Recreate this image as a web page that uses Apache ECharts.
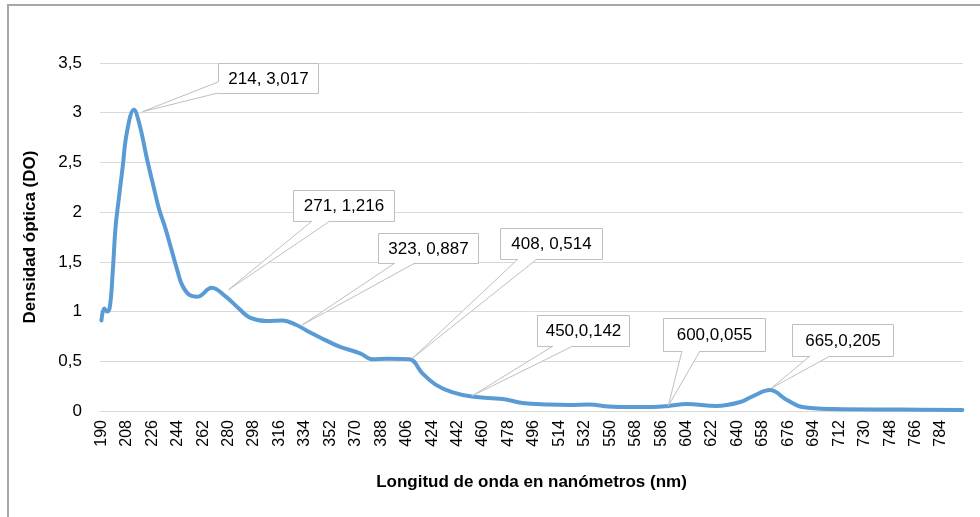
<!DOCTYPE html>
<html>
<head>
<meta charset="utf-8">
<script src="https://cdn.jsdelivr.net/npm/echarts@6/dist/echarts.min.js"></script>
<style>
  html, body { margin: 0; padding: 0; background: #fff; }
  #chart { width: 980px; height: 517px; }
</style>
</head>
<body>
<div id="chart"></div>
<script>
// espectro: longitud de onda (nm) / densidad óptica
const wavelengths = [190, 192, 194, 196, 198, 200, 202, 205, 208, 213, 217, 222, 227, 231, 235, 240, 244, 247, 252, 258,
  268, 278, 288, 295, 307, 318, 328, 335, 344, 358, 373, 382, 392, 408, 417, 427, 438, 452, 474, 488,
  506, 521, 535, 549, 564, 580, 591, 604, 625, 642, 651, 663, 675, 686, 708, 755, 799]
const densities = [0.91, 1.03, 1.0, 1.05, 1.4, 1.85, 2.1, 2.45, 2.8, 3.03, 2.88, 2.55, 2.25, 2.02, 1.85, 1.6, 1.4, 1.27, 1.17, 1.15,
  1.24, 1.15, 1.02, 0.94, 0.905, 0.91, 0.865, 0.81, 0.745, 0.65, 0.58, 0.52, 0.525, 0.52, 0.38, 0.26, 0.19, 0.145, 0.12, 0.08,
  0.065, 0.06, 0.065, 0.045, 0.04, 0.04, 0.05, 0.07, 0.05, 0.09, 0.15, 0.21, 0.11, 0.04, 0.02, 0.015, 0.01]

const xTicks = [190, 208, 226, 244, 262, 280, 298, 316, 334, 352, 370, 388, 406, 424, 442, 460, 478,
  496, 514, 532, 550, 568, 586, 604, 622, 640, 658, 676, 694, 712, 730, 748, 766, 784]

// etiquetas de datos (texto) y punto donde apunta cada una
const calloutTexts = ['214, 3,017', '271, 1,216', '323, 0,887', '408, 0,514', '450,0,142', '600,0,055', '665,0,205']
const calloutNm = [219, 280, 332, 410, 452, 591, 664]
const calloutDo = [3.01, 1.22, 0.865, 0.53, 0.15, 0.05, 0.23]

// layout only: box [x, y, w, h] in px, and wedge base [x1, y1, x2, y2] relative to the box
const calloutBoxes = [
  [218, 63, 100, 30],
  [293, 190, 101, 31],
  [378, 233, 100, 30],
  [500, 228, 102, 31],
  [537, 315, 92, 31],
  [663, 318, 102, 33],
  [792, 324, 101, 32],
]
const wedgeBases = [
  [0, 19, 0, 30],
  [19, 31, 37, 31],
  [17, 30, 37, 30],
  [18, 31, 37, 31],
  [16, 31, 36, 31],
  [19, 33, 37, 33],
  [18, 32, 38, 32],
]

const FONT = '"Liberation Sans", Arial, Helvetica, sans-serif'
const chart = echarts.init(document.getElementById('chart'))

const renderCallout = (params, api) => {
  const i = params.dataIndex
  const tip = api.coord([api.value(0), api.value(1)])
  const [bx, by, bw, bh] = calloutBoxes[i]
  const b = wedgeBases[i]
  const p1 = [bx + b[0], by + b[1]]
  const p2 = [bx + b[2], by + b[3]]
  // push the fill a little inside the box so it hides the border under the wedge
  const inset = b[0] === b[2] ? [1.5, 0] : [0, -1.5]
  return {
    type: 'group',
    children: [
      {
        type: 'rect',
        shape: { x: bx + 0.5, y: by + 0.5, width: bw, height: bh },
        style: { fill: '#fff', stroke: '#bfbfbf', lineWidth: 1 },
      },
      {
        type: 'polygon',
        shape: { points: [[p1[0] + inset[0], p1[1] + inset[1]], [p2[0] + inset[0], p2[1] + inset[1]], p2, tip, p1] },
        style: { fill: '#fff' },
      },
      { type: 'line', shape: { x1: p1[0], y1: p1[1], x2: tip[0], y2: tip[1] }, style: { stroke: '#bfbfbf', lineWidth: 1 } },
      { type: 'line', shape: { x1: p2[0], y1: p2[1], x2: tip[0], y2: tip[1] }, style: { stroke: '#bfbfbf', lineWidth: 1 } },
      {
        type: 'text',
        style: {
          text: calloutTexts[i],
          x: bx + bw / 2 + 0.5,
          y: by + bh / 2 + 1,
          align: 'center',
          verticalAlign: 'middle',
          fontSize: 17,
          fontFamily: FONT,
          fill: '#000',
        },
      },
    ],
  }
}

const option = {
  animation: false,
  backgroundColor: '#fff',
  textStyle: { fontFamily: FONT },
  grid: { left: 100, right: 17, top: 63, bottom: 106, outerBoundsMode: 'none' },
  graphic: [
    {
      type: 'rect',
      shape: { x: 8, y: 5, width: 1200, height: 800 },
      style: { fill: 'none', stroke: '#a6a6a6', lineWidth: 2 },
      silent: true,
    },
  ],
  xAxis: {
    type: 'value',
    min: 189,
    max: 799.5,
    name: 'Longitud de onda en nanómetros (nm)',
    nameLocation: 'middle',
    nameGap: 63,
    nameTextStyle: { fontSize: 17, fontWeight: 'bold', color: '#000', fontFamily: FONT },
    axisLine: { show: true, lineStyle: { color: '#d9d9d9', width: 1 } },
    axisTick: { show: false },
    splitLine: { show: false },
    axisLabel: {
      customValues: xTicks,
      rotate: 90,
      margin: 9,
      fontSize: 16,
      color: '#000',
      fontFamily: FONT,
    },
  },
  yAxis: {
    type: 'value',
    min: 0,
    max: 3.5,
    interval: 0.5,
    name: 'Densidad óptica (DO)',
    nameLocation: 'middle',
    nameGap: 61,
    nameTextStyle: { fontSize: 17, fontWeight: 'bold', color: '#000', fontFamily: FONT },
    axisLine: { show: false },
    axisTick: { show: false },
    splitLine: { lineStyle: { color: '#d9d9d9', width: 1 } },
    axisLabel: {
      margin: 18,
      fontSize: 17,
      color: '#000',
      fontFamily: FONT,
      formatter: (v) => String(v).replace('.', ','),
    },
  },
  series: [
    {
      name: 'DO',
      type: 'line',
      smooth: 0.4,
      showSymbol: false,
      symbol: 'none',
      lineStyle: { color: '#5b9bd5', width: 4, cap: 'round', join: 'round' },
      data: wavelengths.map((w, i) => [w, densities[i]]),
      z: 2,
    },
    {
      name: 'etiquetas',
      type: 'custom',
      coordinateSystem: 'cartesian2d',
      renderItem: renderCallout,
      clip: false,
      silent: true,
      data: calloutNm.map((w, i) => [w, calloutDo[i]]),
      z: 5,
    },
  ],
}

chart.setOption(option)
</script>
</body>
</html>
